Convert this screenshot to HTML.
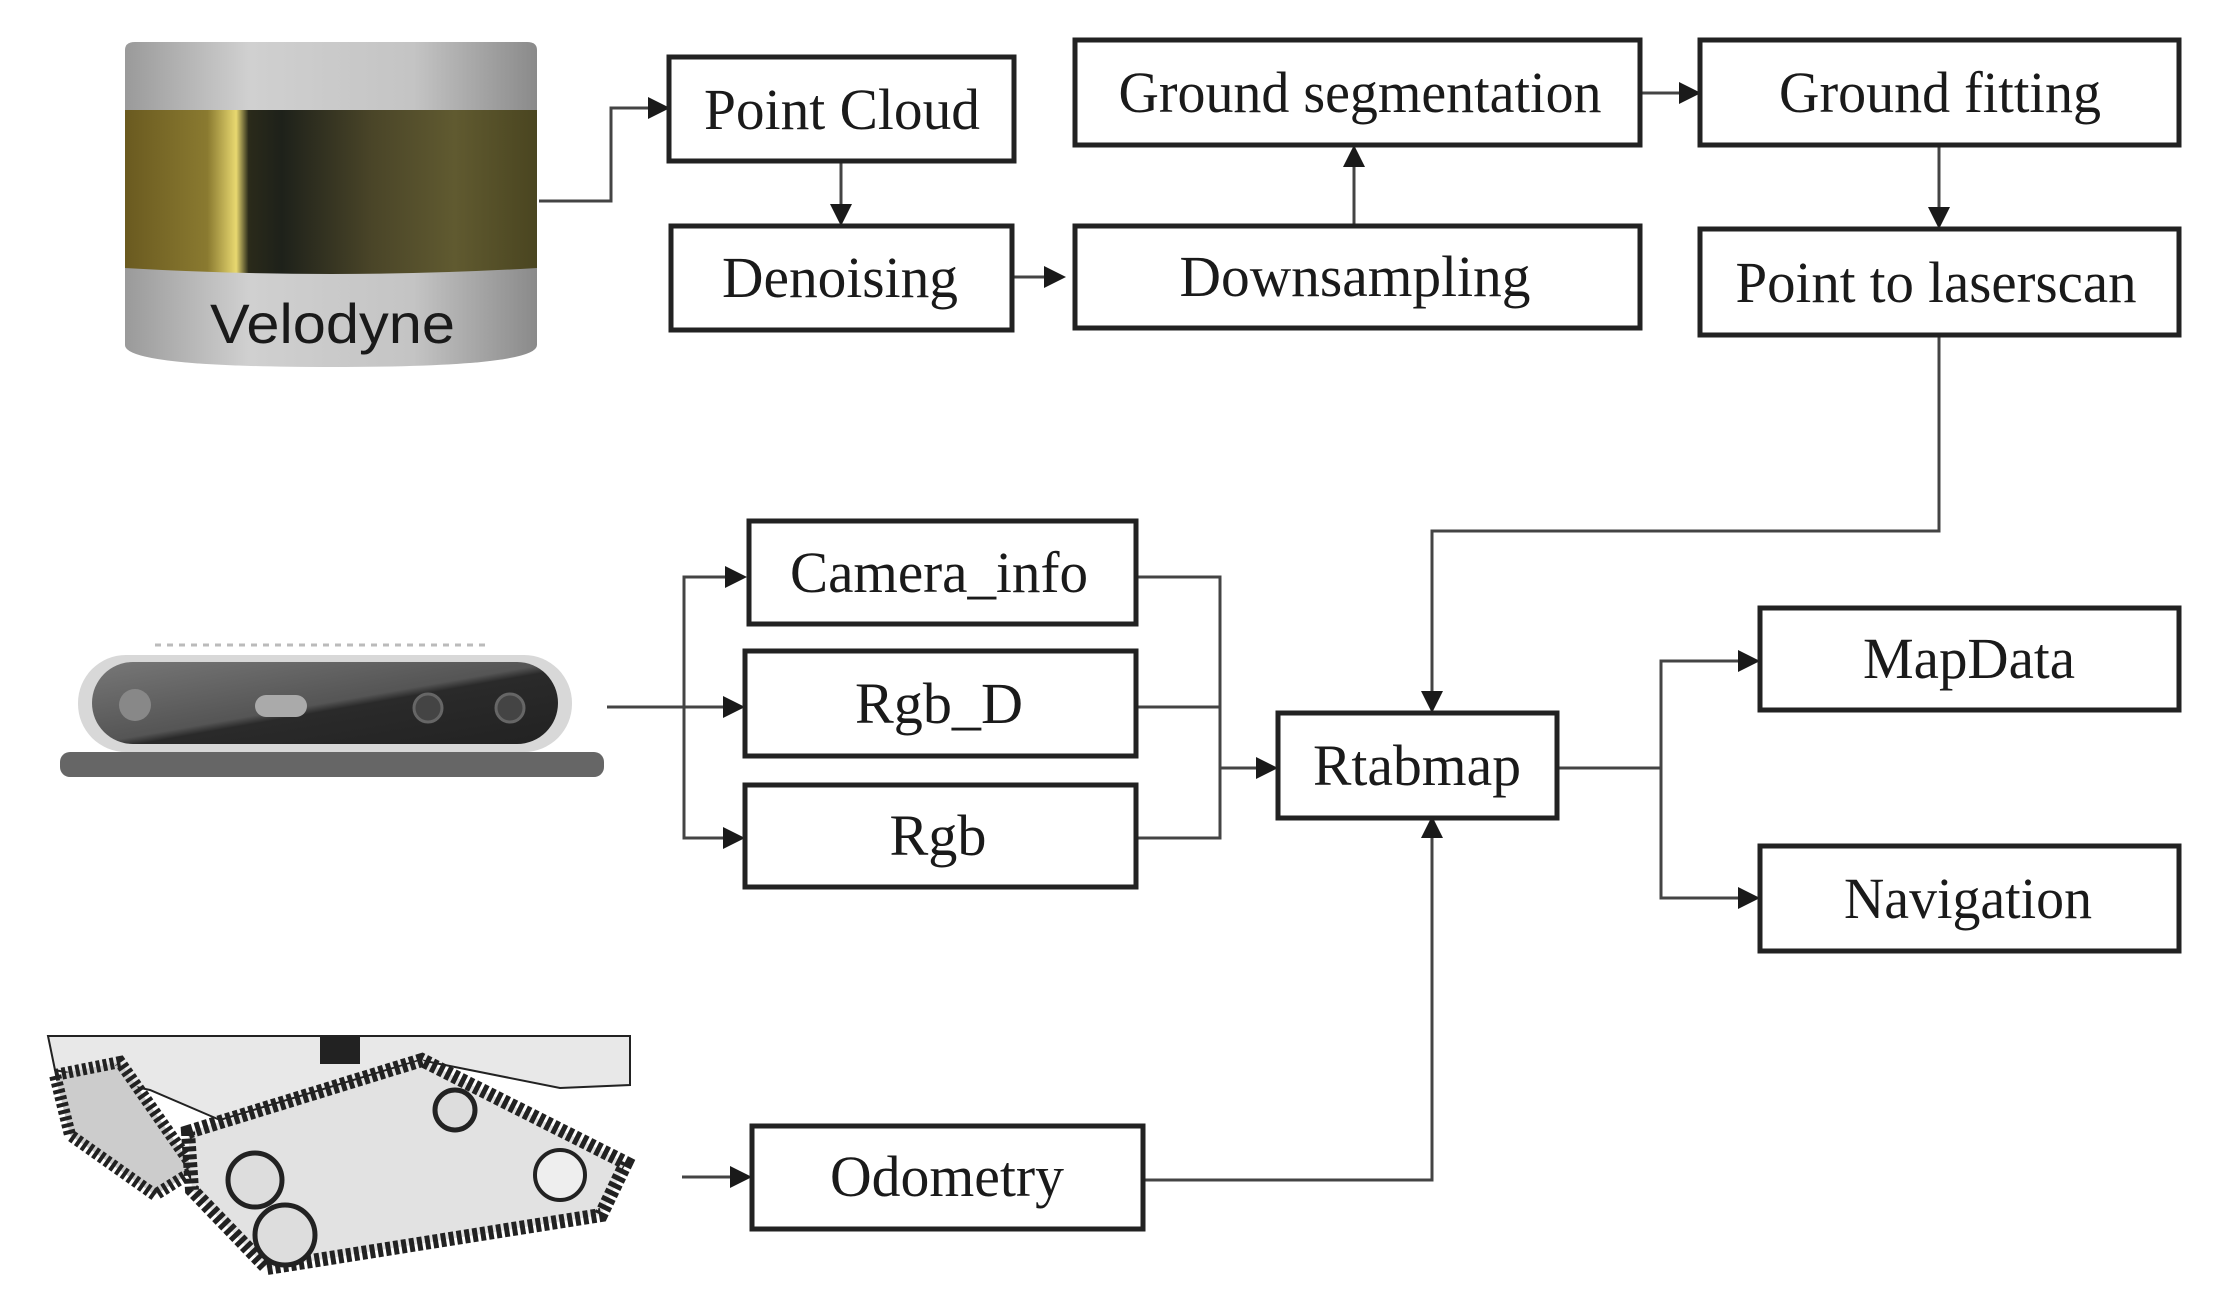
<!DOCTYPE html>
<html><head><meta charset="utf-8"><style>
html,body{margin:0;padding:0;background:#fff;}
svg{display:block;}
text{font-family:"Liberation Serif",serif;fill:#1a1a1a;}
</style></head><body>
<svg width="2217" height="1292" viewBox="0 0 2217 1292" xmlns="http://www.w3.org/2000/svg">
<defs>
<linearGradient id="sil" x1="0" x2="1" y1="0" y2="0">
<stop offset="0" stop-color="#9a9a9a"/><stop offset="0.3" stop-color="#d0d0d0"/><stop offset="0.7" stop-color="#c4c4c4"/><stop offset="1" stop-color="#8a8a8a"/></linearGradient>
<linearGradient id="gold" x1="0" x2="1" y1="0" y2="0">
<stop offset="0" stop-color="#6a5a20"/><stop offset="0.2" stop-color="#8a7a30"/><stop offset="0.27" stop-color="#e8d870"/><stop offset="0.3" stop-color="#2a2a1a"/><stop offset="0.38" stop-color="#1e211a"/><stop offset="0.6" stop-color="#4a4528"/><stop offset="0.8" stop-color="#605a30"/><stop offset="1" stop-color="#4a4520"/></linearGradient>
<linearGradient id="cam" x1="0" x2="1" y1="0" y2="1">
<stop offset="0" stop-color="#777"/><stop offset="0.5" stop-color="#555"/><stop offset="0.55" stop-color="#2a2a2a"/><stop offset="1" stop-color="#222"/></linearGradient>
</defs>

<!-- Velodyne -->
<path d="M125,50 Q125,42 135,42 L527,42 Q537,42 537,50 L537,345 Q537,367 331,367 Q125,367 125,345 Z" fill="url(#sil)"/>
<path d="M125,110 L537,110 L537,268 Q331,280 125,268 Z" fill="url(#gold)"/>
<text x="210" y="343" font-size="56" fill="#2a2a2a" style="font-family:'Liberation Sans',sans-serif" textLength="245" lengthAdjust="spacingAndGlyphs">Velodyne</text>

<!-- Camera -->
<rect x="60" y="752" width="544" height="25" rx="10" fill="#666"/>
<rect x="78" y="655" width="494" height="97" rx="48" fill="#d8d8d8"/>
<rect x="92" y="662" width="466" height="82" rx="41" fill="url(#cam)"/>
<circle cx="135" cy="705" r="16" fill="#888"/>
<rect x="255" y="695" width="52" height="22" rx="11" fill="#aaa"/>
<circle cx="428" cy="708" r="14" fill="#444" stroke="#666" stroke-width="3"/>
<circle cx="510" cy="708" r="14" fill="#444" stroke="#666" stroke-width="3"/>
<line x1="155" y1="645" x2="490" y2="645" stroke="#bbb" stroke-width="3" stroke-dasharray="6,6"/>

<!-- Robot -->
<g stroke="#222" fill="none">
<path d="M48,1036 L630,1036 L630,1085 L560,1088 L420,1060 L220,1120 L150,1090 L55,1070 Z" fill="#e8e8e8" stroke-width="2"/>
<rect x="320" y="1036" width="40" height="28" fill="#222" stroke="none"/>
<path d="M55,1075 L120,1062 L195,1170 L155,1195 L70,1135 Z" fill="#ccc" stroke-width="12" stroke-dasharray="4,3"/>
<path d="M188,1132 L422,1060 L626,1163 L601,1215 L267,1268 L192,1190 Z" fill="#e2e2e2" stroke-width="14" stroke-dasharray="5,3"/>
<circle cx="255" cy="1180" r="27" fill="#ddd" stroke-width="5"/>
<circle cx="285" cy="1235" r="30" fill="#ddd" stroke-width="5"/>
<circle cx="455" cy="1110" r="20" fill="#ddd" stroke-width="5"/>
<circle cx="560" cy="1175" r="25" fill="#eee" stroke-width="4"/>
</g>

<!-- Connectors -->
<g stroke="#444" stroke-width="3" fill="none">
<polyline points="539,201 611,201 611,108 650,108"/>
<line x1="841" y1="161" x2="841" y2="206"/>
<line x1="1012" y1="277" x2="1046" y2="277"/>
<line x1="1354" y1="224" x2="1354" y2="163"/>
<line x1="1640" y1="93" x2="1681" y2="93"/>
<line x1="1939" y1="145" x2="1939" y2="209"/>
<polyline points="1939,335 1939,531 1432,531 1432,693"/>
<line x1="607" y1="707" x2="725" y2="707"/>
<polyline points="725,577 684,577 684,838 725,838"/>
<polyline points="1136,577 1220,577 1220,838 1136,838"/>
<line x1="1136" y1="707" x2="1220" y2="707"/>
<line x1="1220" y1="768" x2="1258" y2="768"/>
<polyline points="1557,768 1661,768"/>
<polyline points="1740,661 1661,661 1661,898 1740,898"/>
<line x1="682" y1="1177" x2="732" y2="1177"/>
<polyline points="1143,1180 1432,1180 1432,836"/>
</g>
<g fill="#1a1a1a">
<polygon points="670,108 648,97 648,119"/>
<polygon points="841,226 830,204 852,204"/>
<polygon points="1066,277 1044,266 1044,288"/>
<polygon points="1354,145 1343,167 1365,167"/>
<polygon points="1701,93 1679,82 1679,104"/>
<polygon points="1939,229 1928,207 1950,207"/>
<polygon points="1432,713 1421,691 1443,691"/>
<polygon points="747,577 725,566 725,588"/>
<polygon points="745,707 723,696 723,718"/>
<polygon points="745,838 723,827 723,849"/>
<polygon points="1278,768 1256,757 1256,779"/>
<polygon points="1432,816 1421,838 1443,838"/>
<polygon points="1760,661 1738,650 1738,672"/>
<polygon points="1760,898 1738,887 1738,909"/>
<polygon points="752,1177 730,1166 730,1188"/>
</g>

<!-- Boxes -->
<g fill="#fff" stroke="#222" stroke-width="5">
<rect x="669" y="57" width="345" height="104"/>
<rect x="671" y="226" width="341" height="104"/>
<rect x="1075" y="40" width="565" height="105"/>
<rect x="1075" y="226" width="565" height="102"/>
<rect x="1700" y="40" width="479" height="105"/>
<rect x="1700" y="229" width="479" height="106"/>
<rect x="749" y="521" width="387" height="103"/>
<rect x="745" y="651" width="391" height="105"/>
<rect x="745" y="785" width="391" height="102"/>
<rect x="1278" y="713" width="279" height="105"/>
<rect x="1760" y="608" width="419" height="102"/>
<rect x="1760" y="846" width="419" height="105"/>
<rect x="752" y="1126" width="391" height="103"/>
</g>

<!-- Labels -->
<g font-size="58" text-anchor="middle">
<text x="842" y="129" textLength="276" lengthAdjust="spacingAndGlyphs">Point Cloud</text>
<text x="840" y="297" textLength="236" lengthAdjust="spacingAndGlyphs">Denoising</text>
<text x="1360" y="112" textLength="483" lengthAdjust="spacingAndGlyphs">Ground segmentation</text>
<text x="1355" y="296" textLength="351" lengthAdjust="spacingAndGlyphs">Downsampling</text>
<text x="1940" y="112" textLength="322" lengthAdjust="spacingAndGlyphs">Ground fitting</text>
<text x="1936" y="302" textLength="401" lengthAdjust="spacingAndGlyphs">Point to laserscan</text>
<text x="939" y="592" textLength="298" lengthAdjust="spacingAndGlyphs">Camera_info</text>
<text x="939" y="723" textLength="168" lengthAdjust="spacingAndGlyphs">Rgb_D</text>
<text x="938" y="855" textLength="97" lengthAdjust="spacingAndGlyphs">Rgb</text>
<text x="1417" y="785" textLength="208" lengthAdjust="spacingAndGlyphs">Rtabmap</text>
<text x="1969" y="678" textLength="212" lengthAdjust="spacingAndGlyphs">MapData</text>
<text x="1968" y="918" textLength="248" lengthAdjust="spacingAndGlyphs">Navigation</text>
<text x="947" y="1196" textLength="234" lengthAdjust="spacingAndGlyphs">Odometry</text>
</g>
</svg>
</body></html>
